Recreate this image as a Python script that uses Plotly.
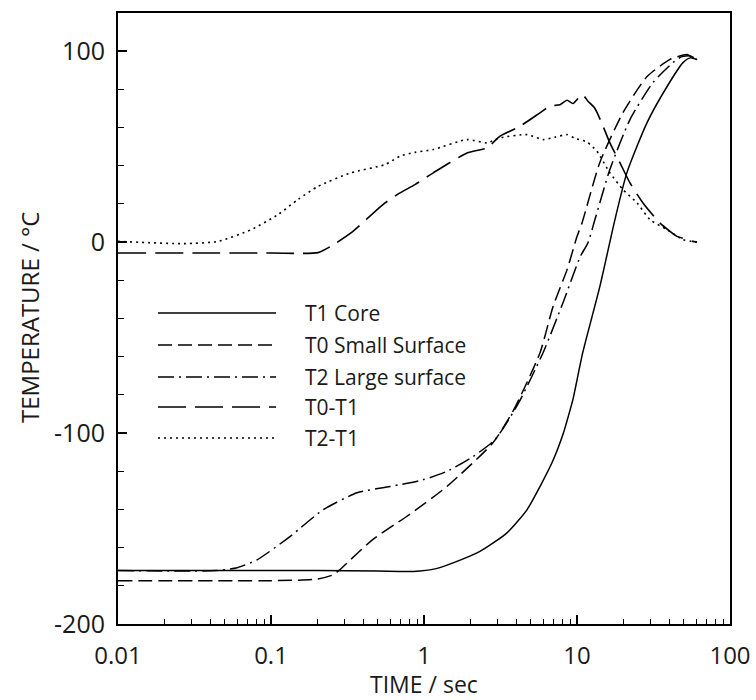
import plotly.graph_objects as go

# ---------------- data ----------------
t1_time = [0.01, 0.05, 0.2, 0.5, 0.85, 1.2, 1.55, 2.32, 3.47, 4.71, 5.73, 7.0, 8.15, 8.77,
           9.4, 10.9, 14.1, 17.7, 21.2, 28.7, 38.8, 49.3, 55, 60.9]
t1_core = [-172, -172, -172, -172.3, -172.5, -171, -168, -162, -152.4, -140.2, -128, -114,
           -100, -91.3, -82.5, -57.9, -23.3, 11.8, 36.4, 62.6, 81.5, 94, 96.5, 95.6]

t0_time = [0.01, 0.1, 0.2, 0.254, 0.28, 0.46, 0.77, 1.41, 2.82, 3.82, 5.73, 6.97, 8.61,
           10.0, 10.8, 14.1, 20, 28.7, 40.6, 52.4, 56, 60.9]
t0_small = [-177.3, -177.3, -176.5, -174.3, -171.7, -155.9, -143.7, -128, -105.1, -88.5,
            -57.9, -33.8, -14.4, 2.9, 10.2, 41.7, 67.9, 86.7, 95.7, 98.3, 97, 95.6]

t2_time = [0.01, 0.044, 0.06, 0.081, 0.133, 0.219, 0.365, 0.6, 0.98, 1.41, 2.09, 2.91,
           4.1, 6.0, 8.1, 10.5, 11.8, 13.1, 16.4, 22.2, 31.4, 42.4, 48, 55, 60.9]
t2_large = [-172, -172, -170.5, -166.4, -154.2, -140.2, -131.3, -128, -124.5, -120.1,
            -112.3, -103.5, -85, -57.9, -31.7, -7.6, -0.3, 11.8, 38, 64.2, 83.6, 94,
            97, 97.5, 95.6]

d01_time = [0.01, 0.1, 0.203, 0.246, 0.333, 0.556, 0.697, 0.873, 1.15, 1.91, 2.58, 3.14,
            4.24, 5.73, 6.66, 7.74, 8.61, 9.42, 10.8, 11.8, 13.1, 14.8, 16.4, 19.1, 22.2,
            27, 34.8, 45, 52, 57, 60.9]
d01 = [-5.7, -5.7, -5.5, -2.2, 4.8, 20.5, 25.8, 30.1, 36.3, 46.7, 49.4, 55.5, 60.7, 67.7,
       71.2, 72, 74.3, 72.6, 77.3, 73.8, 70, 60.7, 52, 41.5, 31, 20.5, 10.1, 3, 1.5, 0.4, 0]

d21_time = [0.01, 0.027, 0.045, 0.074, 0.111, 0.15, 0.203, 0.333, 0.556, 0.697, 0.873,
            1.15, 1.91, 2.58, 3.14, 4.71, 6.0, 7.2, 8.6, 9.6, 11.6, 13.5, 16.4, 20, 24.7,
            30, 38.8, 49.3, 55, 60.9]
d21 = [0.4, -0.8, 0.4, 6.5, 14.4, 22.3, 29.2, 36.3, 40.6, 45, 47, 48.5, 53.7, 52, 54.6,
       56.3, 53.7, 55, 56.3, 54.5, 52.4, 47.6, 36.3, 27.5, 20.5, 11.8, 6.5, 1.3, 0.5, 0]

series_names = ["T1 Core", "T0 Small Surface", "T2 Large surface", "T0-T1", "T2-T1"]
x_tick_vals = [0.01, 0.1, 1, 10, 100]
x_tick_text = ["0.01", "0.1", "1", "10", "100"]
y_tick_vals = [-200, -100, 0, 100]
y_tick_text = ["-200", "-100", "0", "100"]
x_title = "TIME / sec"
y_title = "TEMPERATURE / °C"

# ---------------- styling ----------------
FONT = "Open Sans"
INK = "#1a1a1a"
dashes = ["solid", "14px,6px", "16px,5px,2px,5px", "28px,9px", "2px,4px"]
widths = [1.5, 1.5, 1.5, 1.6, 1.6]

series = [(t1_time, t1_core), (t0_time, t0_small), (t2_time, t2_large),
          (d01_time, d01), (d21_time, d21)]

fig = go.Figure()
for (xs, ys), name, dash, w in zip(series, series_names, dashes, widths):
    fig.add_trace(go.Scatter(x=xs, y=ys, mode="lines", name=name,
                             line=dict(color="black", width=w, dash=dash,
                                       shape="spline", smoothing=0.6),
                             showlegend=False))

# plot area in pixels
L, R, T, B = 118, 730, 13, 624
W, H = 756, 700

def px2paper(px, py):
    return (px - L) / (R - L), (B - py) / (B - T)

# manual legend (long line samples like the reference)
leg_rows = [313, 345, 377, 407, 438]
for name, dash, w, py in zip(series_names, dashes, widths, leg_rows):
    x0, y0 = px2paper(158, py)
    x1, _ = px2paper(276, py)
    fig.add_shape(type="line", xref="paper", yref="paper", x0=x0, x1=x1, y0=y0, y1=y0,
                  line=dict(color="black", width=w, dash=dash))
    tx, _ = px2paper(303, py)
    fig.add_annotation(xref="paper", yref="paper", x=tx, y=y0, text=name,
                       showarrow=False, xanchor="left", yanchor="middle",
                       font=dict(family=FONT, size=21, color=INK))

# axis titles
xt_x, xt_y = px2paper(424, 684)
fig.add_annotation(xref="paper", yref="paper", x=xt_x, y=xt_y, text=x_title,
                   showarrow=False, xanchor="center", yanchor="middle",
                   font=dict(family=FONT, size=23, color=INK))
yt_x, yt_y = px2paper(29, 318)
fig.add_annotation(xref="paper", yref="paper", x=yt_x, y=yt_y, text=y_title,
                   showarrow=False, xanchor="center", yanchor="middle", textangle=-90,
                   font=dict(family=FONT, size=24, color=INK))

minor_x = [m * 10 ** e for e in range(-2, 2) for m in range(2, 10)]

fig.update_layout(
    width=W, height=H,
    margin=dict(l=L, r=W - R, t=T, b=H - B, autoexpand=False),
    paper_bgcolor="white", plot_bgcolor="white",
    font=dict(family=FONT, color=INK),
    showlegend=False,
)
fig.update_xaxes(
    type="log", range=[-2, 2], automargin=False,
    tickvals=x_tick_vals, ticktext=x_tick_text,
    ticks="inside", ticklen=9, tickwidth=1.5, tickcolor="black",
    minor=dict(tickvals=minor_x, ticks="inside", ticklen=5, tickwidth=1, tickcolor="black"),
    showline=True, linewidth=2, linecolor="black", mirror=True,
    showgrid=False, zeroline=False,
    tickfont=dict(family=FONT, size=24, color=INK),
    ticklabelstandoff=9,
)
fig.update_yaxes(
    range=[-200, 120], automargin=False,
    tickvals=y_tick_vals, ticktext=y_tick_text,
    ticks="inside", ticklen=9, tickwidth=1.5, tickcolor="black",
    minor=dict(dtick=20, ticks="inside", ticklen=6, tickwidth=1, tickcolor="black"),
    showline=True, linewidth=2, linecolor="black", mirror=True,
    showgrid=False, zeroline=False,
    tickfont=dict(family=FONT, size=25, color=INK),
    ticklabelstandoff=6,
)

fig.write_html("out.html")
